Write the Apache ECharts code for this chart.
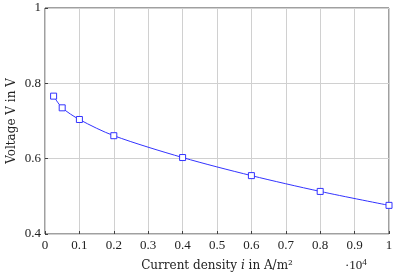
<!DOCTYPE html>
<html><head><meta charset="utf-8">
<script src="https://cdn.jsdelivr.net/npm/echarts@6/dist/echarts.min.js"></script>
<style>html,body{margin:0;padding:0;background:#fff}#c{width:397px;height:275px}</style>
</head><body><div id="c"></div>
<script>
const currentDensity = [0.025, 0.05, 0.1, 0.2, 0.4, 0.6, 0.8, 1.0];
const voltage = [0.766, 0.735, 0.704, 0.661, 0.603, 0.555, 0.513, 0.476];
const xTicks = [0, 0.1, 0.2, 0.3, 0.4, 0.5, 0.6, 0.7, 0.8, 0.9, 1];
const yTicks = [0.4, 0.6, 0.8, 1];

const FONT = 'Liberation Serif';
const TFONT = 'DejaVu Serif';
const FS = 13;
const TFS = 12;
const chart = echarts.init(document.getElementById('c'), null, {renderer: 'canvas'});
chart.setOption({
  animation: false,
  grid: {left: 45, right: 8, top: 8, bottom: 41, containLabel: false, outerBoundsMode: 'none',
    show: true, borderColor: '#404040', borderWidth: 1},
  xAxis: {
    type: 'value', min: xTicks[0], max: xTicks[xTicks.length - 1], interval: 0.1,
    axisLine: {show: false},
    axisTick: {show: true, inside: true, length: 3, lineStyle: {color: '#404040'}},
    splitLine: {show: true, lineStyle: {color: '#d0d0d0', width: 1}},
    axisLabel: {fontFamily: FONT, fontSize: FS, color: '#222', margin: 5,
      formatter: v => String(+v.toFixed(1))},
    name: '{n|Current density }{i|i}{n| in A/m²}', nameLocation: 'middle', nameGap: 26,
    nameTextStyle: {rich: {n: {fontFamily: TFONT, fontSize: TFS, color: '#222'}, i: {fontFamily: TFONT, fontStyle: 'italic', fontSize: TFS, color: '#222'}}}
  },
  yAxis: {
    type: 'value', min: yTicks[0], max: yTicks[yTicks.length - 1], interval: 0.2,
    axisLine: {show: false},
    axisTick: {show: true, inside: true, length: 3, lineStyle: {color: '#404040'}},
    splitLine: {show: true, lineStyle: {color: '#d0d0d0', width: 1}},
    axisLabel: {fontFamily: FONT, fontSize: FS, color: '#222', margin: 4,
      formatter: v => String(+v.toFixed(1))},
    name: 'Voltage V in V', nameLocation: 'middle', nameGap: 27, nameMoveOverlap: false,
    nameTextStyle: {fontFamily: TFONT, fontSize: TFS, color: '#222'}
  },
  graphic: [{
    type: 'text', left: 345, top: 258,
    style: {text: '{n|·10}{s|4}', rich: {n: {fontFamily: FONT, fontSize: FS, fill: '#222'}, s: {fontFamily: FONT, fontSize: 9, fill: '#222', verticalAlign: 'top', padding: [0, 0, 6, 0]}}}
  }],
  series: [{
    type: 'line',
    data: currentDensity.map((x, k) => [x, voltage[k]]),
    smooth: 0.3,
    symbol: 'rect', symbolSize: 6,
    showAllSymbol: true,
    lineStyle: {color: '#3333ff', width: 1},
    itemStyle: {color: '#fff', borderColor: '#3333ff', borderWidth: 1}
  }]
});
</script></body></html>
